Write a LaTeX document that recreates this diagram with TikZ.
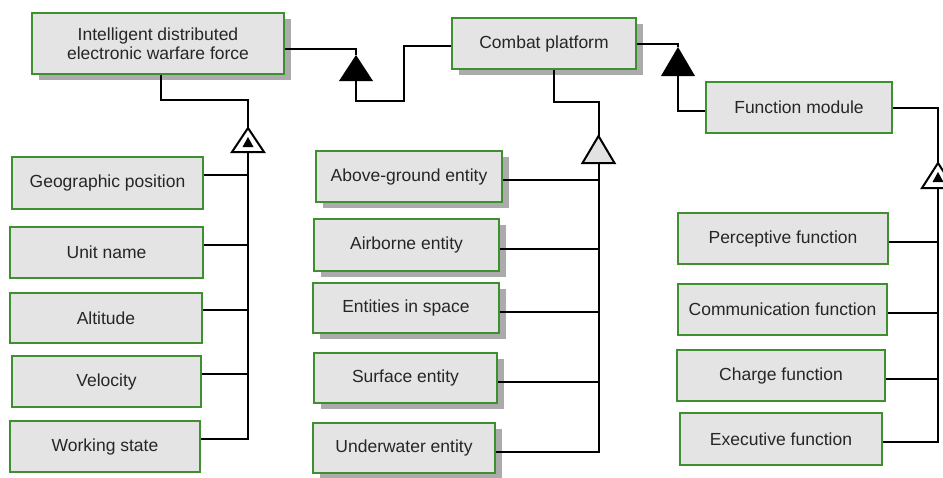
\documentclass[tikz,border=0pt]{standalone}
\usepackage{fontspec}
\setmainfont{Liberation Sans}
\usetikzlibrary{shadows}
\definecolor{boxfill}{HTML}{E4E4E4}
\definecolor{boxline}{HTML}{3F8F30}
\definecolor{shade}{HTML}{ABABAB}
\definecolor{hollow}{HTML}{E2E2E2}
\begin{document}
\begin{tikzpicture}[x=1pt,y=-1pt,
  box/.style={draw=boxline, fill=boxfill, line width=2pt, inner sep=0pt,
    font=\fontsize{17.5}{19.5}\selectfont, text=black!85, align=center},
  shadowed/.style={drop shadow={shadow xshift=7pt, shadow yshift=-6pt, fill=shade, opacity=1}},
  link/.style={line width=2pt, black},
  tri/.style={line width=2pt, draw=black, line join=miter},
]
\useasboundingbox (0,0) rectangle (943,477);

% top level classes
\node[box, shadowed, minimum width=252pt, minimum height=61pt] (force) at (158,43.5)
  {Intelligent distributed\\electronic warfare force};
\node[box, shadowed, minimum width=184pt, minimum height=51pt] (combat) at (544,43.5) {Combat platform};
\node[box, minimum width=186pt, minimum height=51pt] (fmod) at (799,107.5) {Function module};

% attributes of the force
\node[box, minimum width=191pt, minimum height=52pt] (geo) at (107.5,183) {Geographic position};
\node[box, minimum width=193pt, minimum height=51pt] (unit) at (106.5,252.5) {Unit name};
\node[box, minimum width=192pt, minimum height=50pt] (alt) at (106,318) {Altitude};
\node[box, minimum width=189pt, minimum height=51pt] (vel) at (106.5,381.5) {Velocity};
\node[box, minimum width=190pt, minimum height=51pt] (work) at (105,446.5) {Working state};

% kinds of combat platform
\node[box, shadowed, minimum width=186pt, minimum height=51pt] (above) at (409,176.5) {Above-ground entity};
\node[box, shadowed, minimum width=185pt, minimum height=52pt] (air) at (406.5,245) {Airborne entity};
\node[box, shadowed, minimum width=186pt, minimum height=50pt] (space) at (406,308) {Entities in space};
\node[box, shadowed, minimum width=183pt, minimum height=50pt] (surf) at (405.5,378) {Surface entity};
\node[box, shadowed, minimum width=182pt, minimum height=50pt] (under) at (404,448) {Underwater entity};

% kinds of function module
\node[box, minimum width=210pt, minimum height=51pt] (perc) at (783,238.5) {Perceptive function};
\node[box, minimum width=209pt, minimum height=51pt] (comm) at (782.5,309.5) {Communication function};
\node[box, minimum width=208pt, minimum height=51pt] (charge) at (781,375.5) {Charge function};
\node[box, minimum width=202pt, minimum height=52pt] (exec) at (781,439) {Executive function};

% triangle tips and bases
\coordinate (aggA) at (356,55);
\coordinate (aggAb) at (356,81);
\coordinate (aggB) at (678,47);
\coordinate (aggBb) at (678,76);
\coordinate (genA) at (248,128);
\coordinate (genAb) at (248,152);
\coordinate (genB) at (598.5,136);
\coordinate (genBb) at (598.5,163);
\coordinate (genC) at (938,163);
\coordinate (genCb) at (938,188);

% force -- combat platform
\draw[link] ([yshift=-5.5pt]force.east) -| (aggA);
\draw[link] (aggAb) -- ++(0,20) -- ++(48,0) |- ([yshift=-2.5pt]combat.west);
\fill[black] (aggA) -- ++(-17,26) -- ++(34,0) -- cycle;

% combat platform -- function module
\draw[link] (combat.east) -| (aggB);
\draw[link] (aggBb) |- ([yshift=-3.5pt]fmod.west);
\fill[black] (aggB) -- ++(-17,29) -- ++(34,0) -- cycle;

% force attributes
\draw[link] ([xshift=3pt]force.south) -- ++(0,25) -| (genA);
\foreach \n in {geo,unit,alt,vel,work}
  \draw[link] ([yshift=8pt]\n.east) -| (genAb);
\draw[tri, fill=white] (genA) -- ++(-16,24) -- ++(32,0) -- cycle;
\fill[black] (248,137) -- ++(-5.5,10) -- ++(11,0) -- cycle;

% combat platform kinds
\draw[link] ([xshift=10pt]combat.south) -- ++(0,32) -| (genB);
\foreach \n in {above,air,space,surf,under}
  \draw[link] ([yshift=-3.5pt]\n.east) -| (genBb);
\draw[tri, fill=hollow] (genB) -- ++(-16,27) -- ++(32,0) -- cycle;

% function module kinds
\draw[link] (fmod.east) -| (genC);
\foreach \n in {perc,comm,charge,exec}
  \draw[link] ([yshift=-3pt]\n.east) -| (genCb);
\draw[tri, fill=white] (genC) -- ++(-16,25) -- ++(32,0) -- cycle;
\fill[black] (938,172) -- ++(-5.5,10) -- ++(11,0) -- cycle;
\end{tikzpicture}
\end{document}
